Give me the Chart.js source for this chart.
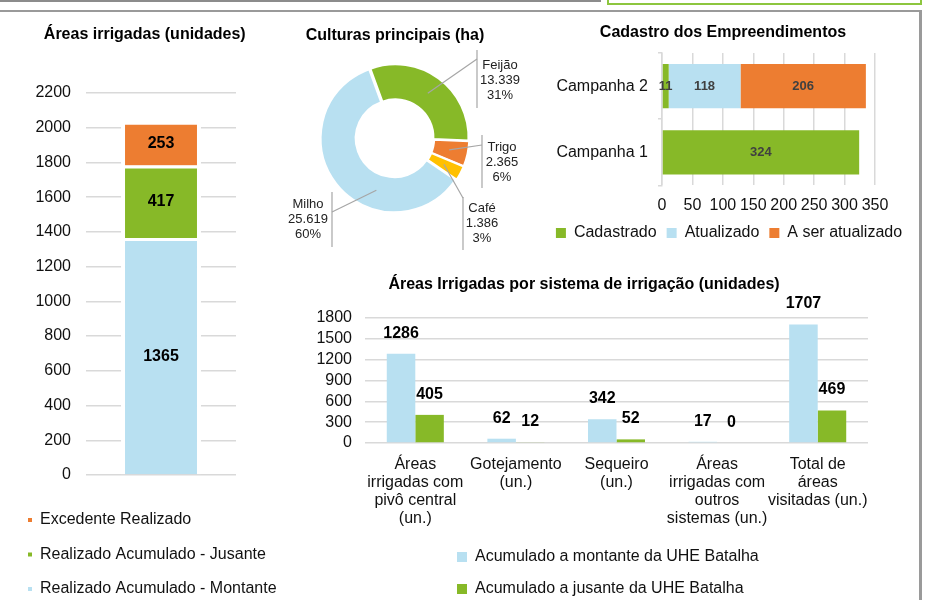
<!DOCTYPE html>
<html lang="pt-BR">
<head>
<meta charset="utf-8">
<title>Áreas irrigadas</title>
<script src="https://cdn.jsdelivr.net/npm/chart.js@4.4.1/dist/chart.umd.min.js"></script>
<style>
  html, body { margin: 0; padding: 0; background: #fff; overflow: hidden; }
  body { width: 930px; height: 600px; position: relative; }
  .strip { position: absolute; left: 0; top: 0; width: 601px; height: 2px; background: #8c8c8c; }
  .tab { position: absolute; left: 607px; top: -10px; width: 311px; height: 11px; border: 2px solid #8dc63f; }
  .panel { position: absolute; left: -5px; top: 10px; width: 921px; height: 620px; border: 3px solid #9a9a9a; border-top-width: 2.5px; }
  canvas { position: absolute; }
</style>
</head>
<body>
<div class="strip"></div>
<div class="tab"></div>
<div class="panel"></div>

<canvas id="areas" width="280" height="593" style="left:0px;top:14px"></canvas>
<canvas id="culturas" width="245" height="250" style="left:280px;top:14px"></canvas>
<canvas id="cadastro" width="406" height="237" style="left:520px;top:14px"></canvas>
<canvas id="sistemas" width="630" height="339" style="left:300px;top:268px"></canvas>

<script>
// Áreas irrigadas (unidades)
const areaLabels = ['Áreas irrigadas']
const areaMontante = [1365]
const areaJusante = [417]
const areaExcedente = [253]

// Culturas principais (ha)
const culturas = ['Feijão', 'Trigo', 'Café', 'Milho']
const culturasHa = [13339, 2365, 1386, 25619]

// Cadastro dos Empreendimentos
const campanhas = ['Campanha 2', 'Campanha 1']
const cadastrado = [11, 324]
const atualizado = [118, null]
const aSerAtualizado = [206, null]

// Áreas Irrigadas por sistema de irrigação (unidades)
const sistemas = [
  ['Áreas', 'irrigadas com', 'pivô central', '(un.)'],
  ['Gotejamento', '(un.)'],
  ['Sequeiro', '(un.)'],
  ['Áreas', 'irrigadas com', 'outros', 'sistemas (un.)'],
  ['Total de', 'áreas', 'visitadas (un.)'],
]
const sistemaMontante = [1286, 62, 342, 17, 1707]
const sistemaJusante = [405, 12, 52, 0, 469]

const AZUL = '#b8e0f1'
const VERDE = '#87b928'
const LARANJA = '#ed7d31'
const AMARELO = '#ffc000'
const GRADE = '#d9d9d9'

Chart.defaults.font.family = '"Liberation Sans", Arial, sans-serif'
Chart.defaults.font.size = 16
Chart.defaults.color = '#111'
Chart.defaults.animation = false
Chart.defaults.plugins.tooltip.enabled = false

const titulo = (text, top, bottom) => ({
  display: true, text: text, color: '#000',
  font: { size: 16, weight: 'bold' },
  padding: { top: top, bottom: bottom },
})

const semMilhar = v => String(v)

// empty axis that only reserves room on the right
const folga = w => ({
  type: 'linear', position: 'right', display: true,
  grid: { display: false }, border: { display: false }, ticks: { display: false },
  afterFit(s) { s.width = w },
})

// legend squares without the white bar border
const semBorda = (chart) =>
  Chart.defaults.plugins.legend.labels.generateLabels(chart).map(l => ({ ...l, lineWidth: 0, strokeStyle: l.fillStyle }))

// numbers on the bars
const rotulos = {
  id: 'rotulos',
  afterDatasetsDraw(chart, args, opts) {
    const ctx = chart.ctx
    ctx.save()
    ctx.font = opts.font
    ctx.fillStyle = opts.color
    ctx.textAlign = 'center'
    ctx.textBaseline = 'middle'
    const horiz = chart.options.indexAxis === 'y'
    chart.data.datasets.forEach((ds, i) => {
      chart.getDatasetMeta(i).data.forEach((bar, j) => {
        const v = ds.data[j]
        if (v === null || v === undefined) return
        const p = bar.getProps(['x', 'y', 'base'], true)
        let x = p.x, y = p.y
        if (opts.pos === 'center') {
          if (horiz) x = (p.x + p.base) / 2
          else y = (p.y + p.base) / 2
        } else {
          y = p.y - opts.offset
        }
        ctx.fillText(String(v), x, y)
      })
    })
    ctx.restore()
  }
}

// move the legend sideways
const moveLegenda = {
  id: 'moveLegenda',
  afterLayout(chart, args, opts) {
    if (!opts.dx) return
    chart.legend.left += opts.dx
    chart.legend.right += opts.dx
  }
}

const milhar = v => String(v).replace(/\B(?=(\d{3})+(?!\d))/g, '.')

// leader lines + labels of the doughnut
const posCulturas = [
  { at: 0.5, elbow: [82, -79], bar: [82, -88, -30], text: [105, -73] },
  { at: 0.5, elbow: [87, 7], bar: [87, -3, 50], text: [107, 9] },
  { at: 0.5, elbow: [68, 60], bar: [68, 59, 112], text: [87, 70] },
  { at: 0.35, elbow: [-63, 74], bar: [-63, 54, 109], text: [-87, 66] },
]
const chamadas = {
  id: 'chamadas',
  afterDatasetsDraw(chart) {
    const ctx = chart.ctx
    const ds = chart.data.datasets[0]
    const total = ds.data.reduce((a, b) => a + b, 0)
    ctx.save()
    chart.getDatasetMeta(0).data.forEach((arc, i) => {
      const L = posCulturas[i]
      const p = arc.getProps(['x', 'y', 'startAngle', 'endAngle', 'innerRadius', 'outerRadius'], true)
      const a = p.startAngle + (p.endAngle - p.startAngle) * L.at
      const r = (p.innerRadius + p.outerRadius) / 2
      ctx.strokeStyle = '#a6a6a6'
      ctx.lineWidth = 1.2
      ctx.beginPath()
      ctx.moveTo(p.x + Math.cos(a) * r, p.y + Math.sin(a) * r)
      ctx.lineTo(p.x + L.elbow[0], p.y + L.elbow[1])
      ctx.stroke()
      ctx.beginPath()
      ctx.moveTo(p.x + L.bar[0], p.y + L.bar[1])
      ctx.lineTo(p.x + L.bar[0], p.y + L.bar[2])
      ctx.stroke()
      ctx.fillStyle = '#222'
      ctx.font = '13px "Liberation Sans", Arial, sans-serif'
      ctx.textAlign = 'center'
      ctx.textBaseline = 'middle'
      const linhas = [chart.data.labels[i], milhar(ds.data[i]), Math.round(ds.data[i] / total * 100) + '%']
      linhas.forEach((t, k) => ctx.fillText(t, p.x + L.text[0], p.y + L.text[1] + k * 15))
    })
    ctx.restore()
  }
}

// 1. Áreas irrigadas (unidades)
new Chart(document.getElementById('areas'), {
  type: 'bar',
  data: {
    labels: areaLabels,
    datasets: [
      { label: 'Realizado Acumulado - Montante', data: areaMontante, backgroundColor: AZUL },
      { label: 'Realizado Acumulado - Jusante', data: areaJusante, backgroundColor: VERDE },
      { label: 'Excedente Realizado', data: areaExcedente, backgroundColor: LARANJA },
    ].map(d => ({ ...d, borderColor: '#fff', borderWidth: { top: 3, left: 4, right: 4, bottom: 0 }, barPercentage: 0.533, categoryPercentage: 1 })),
  },
  options: {
    responsive: false,
    layout: { padding: { left: 9.5, right: 0, top: 0, bottom: 0 } },
    scales: {
      x: {
        stacked: true,
        grid: { display: false }, border: { display: false }, ticks: { display: false },
        afterFit(s) { s.height = 18.5 },
      },
      y: {
        stacked: true, min: 0, max: 2200,
        ticks: { stepSize: 200, padding: 15, color: '#111', font: { size: 16 }, callback: semMilhar, autoSkip: false },
        grid: { color: GRADE, lineWidth: 1.5, drawTicks: false },
        border: { display: false },
        afterFit(s) { s.width = 76.5 },
      },
      folga: folga(44),
    },
    plugins: {
      title: titulo('Áreas irrigadas (unidades)', 11.4, 48.4),
      legend: {
        position: 'bottom', align: 'start', reverse: true,
        labels: { boxWidth: 4, boxHeight: 4, padding: 18.5, color: '#111', font: { size: 16 }, generateLabels: semBorda },
      },
      rotulos: { pos: 'center', font: 'bold 16px "Liberation Sans", Arial, sans-serif', color: '#000' },
    },
  },
  plugins: [rotulos],
})

// 2. Culturas principais (ha)
new Chart(document.getElementById('culturas'), {
  type: 'doughnut',
  data: {
    labels: culturas,
    datasets: [{
      data: culturasHa,
      backgroundColor: [VERDE, LARANJA, AMARELO, AZUL],
      borderColor: '#fff', borderWidth: 2, offset: 3,
    }],
  },
  options: {
    responsive: false,
    radius: 73,
    cutout: '52%',
    rotation: -20,
    layout: { padding: { left: 0, right: 15, top: 0, bottom: 37.6 } },
    plugins: {
      title: titulo('Culturas principais (ha)', 12.4, 4),
      legend: { display: false },
    },
  },
  plugins: [chamadas],
})

// 3. Cadastro dos Empreendimentos
new Chart(document.getElementById('cadastro'), {
  type: 'bar',
  data: {
    labels: campanhas,
    datasets: [
      { label: 'Cadastrado', data: cadastrado, backgroundColor: VERDE },
      { label: 'Atualizado', data: atualizado, backgroundColor: AZUL },
      { label: 'A ser atualizado', data: aSerAtualizado, backgroundColor: LARANJA },
    ].map(d => ({ ...d, borderWidth: 0, barPercentage: 0.667, categoryPercentage: 1 })),
  },
  options: {
    responsive: false,
    indexAxis: 'y',
    layout: { padding: 0 },
    scales: {
      x: {
        stacked: true, min: 0, max: 350,
        ticks: { stepSize: 50, padding: 10.4, color: '#111', font: { size: 16 }, maxRotation: 0, minRotation: 0, autoSkip: false, callback: semMilhar },
        grid: { color: GRADE, lineWidth: 1.5, drawTicks: false },
        border: { display: false },
        afterFit(s) { s.height = 29.6 },
      },
      y: {
        stacked: true,
        ticks: { padding: 10, color: '#111', font: { size: 16 } },
        grid: { color: GRADE, lineWidth: 1.5, drawOnChartArea: false, tickLength: 4 },
        border: { display: true, color: GRADE, width: 1.5 },
        afterFit(s) { s.width = 142 },
      },
      folga: folga(51),
    },
    plugins: {
      title: titulo('Cadastro dos Empreendimentos', 9.4, 10.4),
      legend: {
        position: 'bottom',
        labels: { boxWidth: 10, boxHeight: 10, padding: 10, color: '#111', font: { size: 16 }, generateLabels: semBorda },
      },
      moveLegenda: { dx: 6 },
      rotulos: { pos: 'center', font: 'bold 13px "Liberation Sans", Arial, sans-serif', color: '#404040' },
    },
  },
  plugins: [rotulos, moveLegenda],
})

// 4. Áreas Irrigadas por sistema de irrigação (unidades)
new Chart(document.getElementById('sistemas'), {
  type: 'bar',
  data: {
    labels: sistemas,
    datasets: [
      { label: 'Acumulado a montante da UHE Batalha', data: sistemaMontante, backgroundColor: AZUL },
      { label: 'Acumulado a jusante da UHE Batalha', data: sistemaJusante, backgroundColor: VERDE },
    ].map(d => ({ ...d, borderWidth: 0, barPercentage: 1, categoryPercentage: 0.567 })),
  },
  options: {
    responsive: false,
    layout: { padding: { left: 0, right: 62, top: 0, bottom: 0 } },
    scales: {
      x: {
        ticks: { padding: 5, color: '#111', font: { size: 16, lineHeight: 1.125 }, maxRotation: 0, autoSkip: false },
        grid: { display: false }, border: { display: false },
        afterFit(s) { s.height = 90 },
      },
      y: {
        min: 0, max: 1800,
        ticks: { stepSize: 300, padding: 13, color: '#111', font: { size: 16 }, autoSkip: false, callback: semMilhar },
        grid: { color: GRADE, lineWidth: 1.5, drawTicks: false },
        border: { display: false },
        afterFit(s) { s.width = 65 },
      },
    },
    plugins: {
      title: titulo('Áreas Irrigadas por sistema de irrigação (unidades)', 7.4, 23.4),
      legend: {
        position: 'bottom', align: 'start', fullSize: false,
        labels: { boxWidth: 10, boxHeight: 10, padding: 16, color: '#111', font: { size: 16 }, generateLabels: semBorda },
      },
      moveLegenda: { dx: 76 },
      rotulos: { pos: 'top', offset: 20.5, font: 'bold 16px "Liberation Sans", Arial, sans-serif', color: '#000' },
    },
  },
  plugins: [rotulos, moveLegenda],
})
</script>
</body>
</html>
